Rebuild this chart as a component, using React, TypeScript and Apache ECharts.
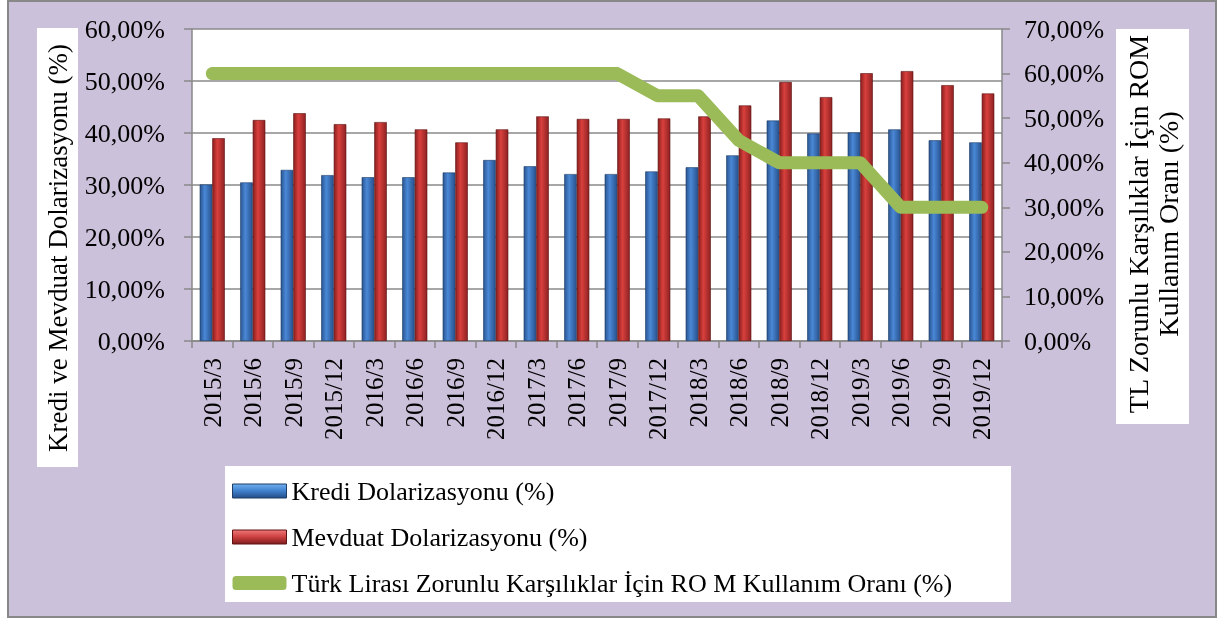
import React, { useEffect, useRef } from "react";
import * as echarts from "echarts";

const categories = ["2015/3", "2015/6", "2015/9", "2015/12", "2016/3", "2016/6", "2016/9", "2016/12", "2017/3", "2017/6", "2017/9", "2017/12", "2018/3", "2018/6", "2018/9", "2018/12", "2019/3", "2019/6", "2019/9", "2019/12"];
const krediValues = [30.1, 30.5, 32.9, 31.9, 31.5, 31.5, 32.4, 34.8, 33.6, 32.1, 32.1, 32.6, 33.4, 35.7, 42.4, 39.9, 40.1, 40.7, 38.6, 38.2];
const mevduatValues = [39.0, 42.5, 43.8, 41.7, 42.1, 40.7, 38.2, 40.7, 43.2, 42.7, 42.7, 42.8, 43.2, 45.3, 49.8, 46.9, 51.5, 51.9, 49.2, 47.6];
const romValues = [60, 60, 60, 60, 60, 60, 60, 60, 60, 60, 60, 55, 55, 45, 40, 40, 40, 30, 30, 30];

const seriesNames = [
  "Kredi Dolarizasyonu (%)",
  "Mevduat Dolarizasyonu (%)",
  "Türk Lirası Zorunlu Karşılıklar İçin RO M Kullanım Oranı (%)",
];
const leftTitle = "Kredi ve Mevduat Dolarizasyonu (%)";
const rightTitle = "TL Zorunlu Karşılıklar İçin ROM\nKullanım Oranı (%)";

const FONT = "'Liberation Serif', 'Times New Roman', serif";
const fmt = (v: number) => v.toFixed(2).replace(".", ",") + "%";

export default function App() {
  const ref = useRef<HTMLDivElement>(null);
  useEffect(() => {
    if (!ref.current) return;
    const chart = echarts.init(ref.current, null, { renderer: "svg" });
    const blue = new echarts.graphic.LinearGradient(0, 0, 1, 0, [
      { offset: 0, color: "#2a5592" },
      { offset: 0.4, color: "#4a88d6" },
      { offset: 1, color: "#28528e" },
    ]);
    const red = new echarts.graphic.LinearGradient(0, 0, 1, 0, [
      { offset: 0, color: "#8a1f1f" },
      { offset: 0.4, color: "#d9403d" },
      { offset: 1, color: "#8e2222" },
    ]);
    const blueLegend = new echarts.graphic.LinearGradient(0, 0, 0, 1, [
      { offset: 0, color: "#6fb0f0" },
      { offset: 0.5, color: "#3f7fcc" },
      { offset: 1, color: "#244e88" },
    ]);
    const redLegend = new echarts.graphic.LinearGradient(0, 0, 0, 1, [
      { offset: 0, color: "#f07878" },
      { offset: 0.5, color: "#cc3f3f" },
      { offset: 1, color: "#7e1d1d" },
    ]);
    chart.setOption({
      animation: false,
      textStyle: { fontFamily: FONT },
      graphic: [
        {
          type: "rect",
          z: -10,
          shape: { x: 8, y: 1, width: 1208, height: 616 },
          style: { fill: "#ccc1da", stroke: "#888888", lineWidth: 2 },
        },
        {
          type: "rect",
          z: -5,
          shape: { x: 37, y: 28, width: 41, height: 439 },
          style: { fill: "#ffffff" },
        },
        {
          type: "text",
          x: 58,
          y: 248,
          rotation: Math.PI / 2,
          style: {
            text: leftTitle,
            font: `27px ${FONT}`,
            fill: "#000",
            align: "center",
            verticalAlign: "middle",
          },
        },
        {
          type: "rect",
          z: -5,
          shape: { x: 1116, y: 29, width: 73, height: 395 },
          style: { fill: "#ffffff" },
        },
        {
          type: "text",
          x: 1153,
          y: 224,
          rotation: Math.PI / 2,
          style: {
            text: rightTitle,
            font: `28px ${FONT}`,
            lineHeight: 30,
            fill: "#000",
            align: "center",
            verticalAlign: "middle",
          },
        },
        {
          type: "rect",
          z: -5,
          shape: { x: 225, y: 466, width: 786, height: 136 },
          style: { fill: "#ffffff" },
        },
      ],
      legend: {
        orient: "vertical",
        left: 232,
        top: 478,
        itemGap: 20,
        itemWidth: 54,
        itemHeight: 14,
        itemTextGap: 4,
        padding: 0,
        textStyle: { fontFamily: FONT, fontSize: 26, color: "#000" },
        data: [
          { name: seriesNames[0], icon: "rect", itemStyle: { color: blueLegend, borderColor: "#1d3c66", borderWidth: 1 } },
          { name: seriesNames[1], icon: "rect", itemStyle: { color: redLegend, borderColor: "#5e1212", borderWidth: 1 } },
          { name: seriesNames[2], icon: "roundRect" },
        ],
      },
      grid: {
        left: 192,
        right: 218,
        top: 29,
        bottom: 280,
        show: true,
        backgroundColor: "#ffffff",
        borderWidth: 0,
      },
      xAxis: {
        type: "category",
        data: categories,
        axisLine: { lineStyle: { color: "#888888", width: 1.5 } },
        axisTick: { show: true, length: 7, lineStyle: { color: "#888888", width: 1.5 } },
        axisLabel: {
          rotate: 90,
          margin: 17,
          fontFamily: FONT,
          fontSize: 25,
          color: "#000",
          interval: 0,
        },
      },
      yAxis: [
        {
          type: "value",
          min: 0,
          max: 60,
          interval: 10,
          axisLine: { show: true, lineStyle: { color: "#888888", width: 1.5 } },
          axisTick: { show: true, length: 8, lineStyle: { color: "#888888", width: 1.5 } },
          splitLine: { show: true, lineStyle: { color: "#8a8a8a", width: 1.5 } },
          axisLabel: {
            formatter: fmt,
            margin: 27,
            fontFamily: FONT,
            fontSize: 26,
            color: "#000",
          },
        },
        {
          type: "value",
          min: 0,
          max: 70,
          interval: 10,
          position: "right",
          axisLine: { show: true, lineStyle: { color: "#888888", width: 1.5 } },
          axisTick: { show: true, length: 8, lineStyle: { color: "#888888", width: 1.5 } },
          splitLine: { show: false },
          axisLabel: {
            formatter: fmt,
            margin: 22,
            fontFamily: FONT,
            fontSize: 26,
            color: "#000",
          },
        },
      ],
      series: [
        {
          name: seriesNames[0],
          type: "bar",
          data: krediValues,
          barGap: "0%",
          barCategoryGap: "38%",
          itemStyle: { color: blue, borderColor: "#1d3c66", borderWidth: 0.6 },
        },
        {
          name: seriesNames[1],
          type: "bar",
          data: mevduatValues,
          barGap: "0%",
          barCategoryGap: "38%",
          itemStyle: { color: red, borderColor: "#5e1212", borderWidth: 0.6 },
        },
        {
          name: seriesNames[2],
          type: "line",
          yAxisIndex: 1,
          data: romValues,
          symbol: "none",
          lineStyle: { color: "#9bbb59", width: 13, cap: "round", join: "round" },
          itemStyle: { color: "#9bbb59" },
        },
      ],
    });
    return () => chart.dispose();
  }, []);
  return (
    <div
      ref={ref}
      style={{ position: "fixed", left: 0, top: 0, width: 1220, height: 621 }}
    />
  );
}
